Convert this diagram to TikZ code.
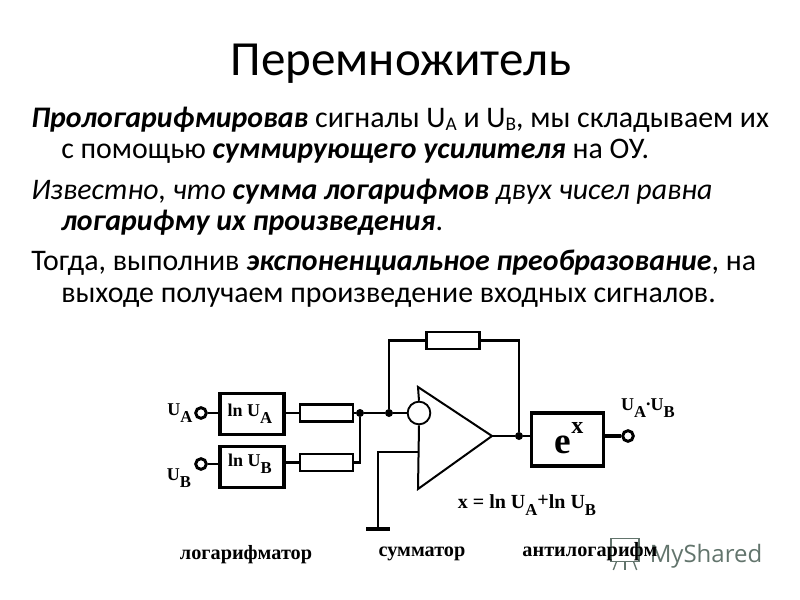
\documentclass[tikz,border=0pt]{standalone}
\usepackage{fontspec}
\setmainfont{Carlito}
\newfontfamily\schemefont{Liberation Serif}
\newfontfamily\markfont{Open Sans}
\definecolor{markgray}{RGB}{98,116,108}
\newcommand{\lowsub}[2][-5pt]{\raisebox{#1}{\fontsize{12.5}{13}\selectfont #2}}
\newcommand{\bodysub}[1]{\raisebox{-2.5pt}{\fontsize{14.5}{15}\selectfont #1}}
\tikzset{
  bodyline/.style={anchor=base west,inner sep=0pt,font=\fontsize{22.4}{24}\selectfont},
  schemetext/.style={inner sep=0.75pt,font=\schemefont\bfseries\fontsize{13.5}{15}\selectfont},
  captiontext/.style={inner sep=0.75pt,font=\schemefont\bfseries\fontsize{15.2}{17}\selectfont},
  thickbox/.style={draw,line width=2.6pt,minimum width=48pt,minimum height=31pt,inner sep=0pt},
  resistor/.style={draw,line width=1.9pt,minimum width=40pt,minimum height=13pt,inner sep=0pt},
  terminal/.style={circle,draw,line width=2.2pt,minimum size=8pt,inner sep=0pt},
  junction/.style={circle,fill,minimum size=6pt,inner sep=0pt},
  wire/.style={line width=1.8pt},
  markline/.style={draw=markgray,line width=1pt}
}
\begin{document}
\begin{tikzpicture}[x=0.75pt,y=0.75pt,yscale=-1,xscale=1]
\useasboundingbox (0,0) rectangle (800,600);

% Title
\node (title) [anchor=base,inner sep=0pt,font=\fontsize{36.8}{40}\selectfont] at (401,75) {Перемножитель};

% Body text
\node (linea) [bodyline] at (31,127) {\textbf{\textit{Прологарифмировав}} сигналы U\bodysub{A} и U\bodysub{B}, мы складываем их};
\node (lineb) [bodyline] at (61,158) {с помощью \textbf{\textit{суммирующего усилителя}} на ОУ.};
\node (linec) [bodyline] at (31,199) {\textit{Известно, что} \textbf{\textit{сумма логарифмов}} \textit{двух чисел равна}};
\node (lined) [bodyline] at (61,230) {\textbf{\textit{логарифму их произведения}}.};
\node (linee) [bodyline] at (31,270) {Тогда, выполнив \textbf{\textit{экспоненциальное преобразование}}, на};
\node (linef) [bodyline] at (61,302) {выходе получаем произведение входных сигналов.};

% Watermark
\node (logo) [markline,minimum width=21pt,minimum height=17pt,inner sep=0pt] at (625,550) {};
\draw [markline] (logo.south west) ++(6,0) coordinate (lega) -- ++(-3,8);
\draw [markline] (logo.south) -- ++(0,8);
\draw [markline] (logo.south east) ++(-6,0) coordinate (legb) -- ++(3,8);
\node (mark) [inner sep=0pt,text=markgray,font=\markfont\fontsize{18}{20}\selectfont] at (706,556) {MyShared};

% Blocks
\node (lna) [thickbox] at (252,414) {};
\node (lnb) [thickbox] at (252,467) {};
\node (expbox) [thickbox,minimum width=54pt,minimum height=40pt] at (567.5,439.5) {};
\node (ra) [resistor] at (326.5,413) {};
\node (rb) [resistor] at (326.5,462.5) {};
\node (rf) [resistor] at (453,340.5) {};

% Terminals
\node (ua) [terminal] at (201,413) {};
\node (ub) [terminal] at (201,464) {};
\node (out) [terminal] at (628,436) {};

% Junctions
\node (jsum) [junction] at (360,413) {};
\node (jfb) [junction] at (389,413) {};
\node (jout) [junction] at (519,436) {};
\node (inv) [circle,draw,line width=1.4pt,minimum size=17pt,inner sep=0pt] at (419,413) {};

% Amplifier
\coordinate (amptop) at (418,387);
\coordinate (ampbot) at (418,489);
\coordinate (amptip) at (492,436);
\coordinate (ninv) at (418,452);
\coordinate (gnd) at (378,529);
\draw [line width=1.5pt] (inv.north) -- (amptop) -- (amptip) -- (ampbot) -- (inv.south);

% Wires
\draw [wire] (ua) -- (lna.west |- ua);
\draw [wire] (ub) -- (lnb.west |- ub);
\draw [wire] (lna.east |- ra) -- (ra);
\draw [wire] (lnb.east |- rb) -- (rb);
\draw [wire] (ra) -- (jsum) -- (jfb) -- (inv);
\draw [wire] (rb) -| (jsum);
\draw [wire] (jfb) |- (rf);
\draw [wire] (rf) -| (jout);
\draw [wire] (amptip) -- (jout) -- (expbox.west |- jout);
\draw [wire,line width=2.4pt] (expbox.east |- out) -- (out);
\draw [wire] (ninv) -| (gnd);
\draw [line width=3.6pt] ([xshift=-9pt]gnd) coordinate (gnda) -- ([xshift=9pt]gnd) coordinate (gndb);

% Scheme labels
\node (lnatext) [schemetext] at (250,414) {ln U\lowsub{A}};
\node (lnbtext) [schemetext] at (250,464) {ln U\lowsub{B}};
\node (uatext) [schemetext] at (180,413) {U\lowsub{A}};
\node (ubtext) [schemetext] at (179,478) {U\lowsub{B}};
\node (outtext) [schemetext] at (648,408) {U\lowsub{A}\raisebox{3.5pt}{.}U\lowsub{B}};
\node (exptext) [schemetext,font=\schemefont\bfseries\fontsize{28}{30}\selectfont] at (569,438) {e\raisebox{15pt}{\fontsize{18}{19}\selectfont x}};
\node (sumtext) [schemetext,font=\schemefont\bfseries\fontsize{15}{17}\selectfont] at (527,505) {x = ln U\lowsub{A}\raisebox{1.5pt}{+}ln U\lowsub{B}};

% Captions
\node (capa) [captiontext] at (246,555) {логарифматор};
\node (capb) [captiontext] at (422,554) {сумматор};
\node (capc) [captiontext] at (590,552) {антилогарифм};
\end{tikzpicture}
\end{document}
